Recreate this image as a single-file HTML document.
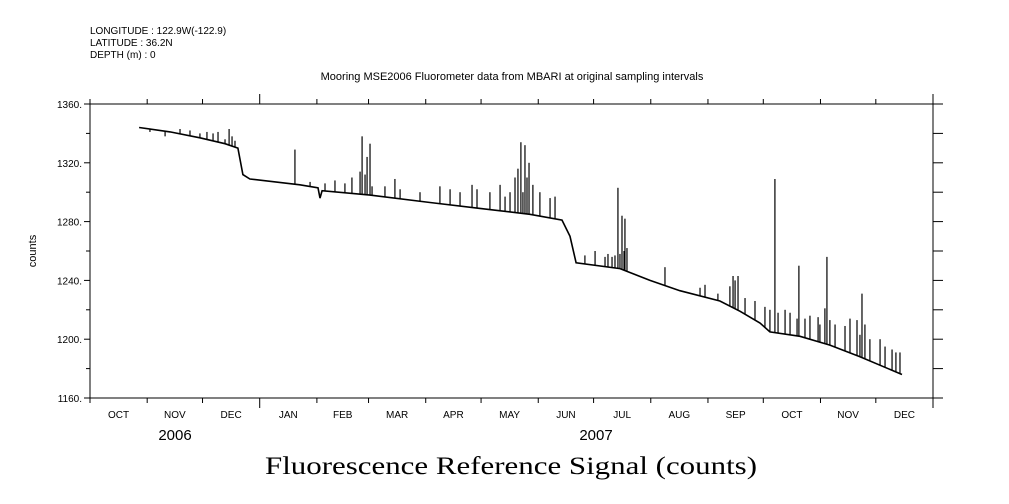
<!DOCTYPE html>
<html><head><meta charset="utf-8"><style>
body{margin:0;background:#fff;}
svg{display:block;font-family:"Liberation Sans",sans-serif;}
</style></head><body>
<svg id="chart" width="1009" height="504" viewBox="0 0 1009 504" xmlns="http://www.w3.org/2000/svg">
<rect width="1009" height="504" fill="#fff"/>
<g font-size="10" fill="#000">
<text x="90" y="34">LONGITUDE : 122.9W(-122.9)</text>
<text x="90" y="46">LATITUDE : 36.2N</text>
<text x="90" y="58">DEPTH (m) : 0</text>
<text x="512" y="80" text-anchor="middle" font-size="11">Mooring MSE2006 Fluorometer data from MBARI at original sampling intervals</text>
<text x="36" y="251" text-anchor="middle" transform="rotate(-90 36 251)" font-size="11">counts</text>
<text x="175" y="440" text-anchor="middle" font-size="15">2006</text>
<text x="596" y="440" text-anchor="middle" font-size="15">2007</text>
<text x="511" y="474" text-anchor="middle" font-size="25" font-family="Liberation Serif, serif" textLength="492" lengthAdjust="spacingAndGlyphs">Fluorescence Reference Signal (counts)</text>
</g>
<g id="axes" stroke="#000" stroke-width="1" fill="none"></g>
<g id="labels" font-size="10" fill="#000"></g>
<g id="series" stroke="#000" fill="none"></g>
</svg>
<script>
// data: days since 2006-10-01
const baseDays = [26.6,43.4,59.6,73.2,80.2,82.9,86.7,113.8,123.6,124.7,125.8,151.8,184.3,211.4,238.5,255.9,260.2,263.5,287.3,303.6,319.8,341.5,352.4,363.2,368.6,384.9,401.1,417.4,440.2];
const baseVals = [1344,1341,1337,1333,1330,1312,1309,1305,1303,1296,1301,1298,1293,1289,1285,1281,1270,1252,1248,1240,1233,1226,1219,1211,1205,1202,1196,1188,1176];
const spikeDays = [32.5,40.7,48.8,54.2,59.6,63.4,66.7,69.4,73.2,75.4,77.0,78.6,111.1,119.3,127.4,132.8,138.2,142.0,146.4,147.5,149.1,150.2,151.8,152.9,159.9,165.3,168.1,178.9,189.7,195.2,200.6,207.1,209.8,216.8,222.3,225.0,227.7,230.4,232.0,233.6,234.7,235.8,236.9,238.0,240.1,243.9,249.4,252.1,268.3,273.8,279.2,280.8,283.0,284.6,286.2,287.3,288.4,289.5,290.0,291.1,311.7,330.7,333.4,340.4,346.9,348.6,349.7,351.3,355.1,360.5,365.9,368.6,371.3,373.0,376.8,379.5,383.3,384.3,387.6,390.3,394.7,395.7,398.4,399.5,401.1,403.9,409.3,412.0,415.8,417.4,418.5,420.1,422.8,428.3,431.0,434.8,436.9,439.1];
const spikeVals = [1341,1338,1343,1342,1340,1341,1340,1341,1336,1343,1338,1335,1329,1307,1306,1308,1306,1310,1314,1338,1312,1324,1333,1304,1304,1309,1302,1300,1304,1302,1300,1305,1302,1300,1305,1297,1300,1310,1316,1334,1300,1332,1310,1320,1305,1300,1296,1297,1257,1260,1256,1258,1256,1257,1303,1258,1284,1260,1282,1262,1249,1235,1237,1231,1236,1243,1240,1243,1228,1226,1222,1220,1309,1218,1220,1218,1214,1250,1214,1216,1215,1210,1221,1256,1213,1210,1209,1214,1213,1203,1231,1210,1200,1200,1195,1193,1191,1191];
const yTicks = [1160,1200,1240,1280,1320,1360];
const monthLabels = ["OCT","NOV","DEC","JAN","FEB","MAR","APR","MAY","JUN","JUL","AUG","SEP","OCT","NOV","DEC"];
const monthStarts = [0,31,61,92,123,151,182,212,243,273,304,335,365,396,426,457];

const L=90,R=933,T=104,B=398,D0=0,D1=457,V0=1160,V1=1360;
const xs=d=>L+(d-D0)/(D1-D0)*(R-L);
const ys=v=>B-(v-V0)/(V1-V0)*(B-T);
const NS="http://www.w3.org/2000/svg";
function mk(tag,parent,attrs){const e=document.createElementNS(NS,tag);for(const k in attrs)e.setAttribute(k,attrs[k]);parent.appendChild(e);return e;}
const ax=document.getElementById('axes'), lb=document.getElementById('labels'), sr=document.getElementById('series');
const frame=mk('rect',ax,{x:L,y:T,width:R-L,height:B-T});


const rext=mk('line',ax,{x1:R,y1:T-9,x2:R,y2:B+10});


for(let v=V0;v<=V1;v+=20){
  const y=ys(v),major=yTicks.includes(v);
  const t=mk('line',ax,{x1:L-(major?6:4),y1:y,x2:L,y2:y});
  
  
  const t2=mk('line',ax,{x1:R,y1:y,x2:R+10,y2:y});
  
  
}
yTicks.forEach(v=>{
  const t=mk('text',lb,{x:L-8,y:ys(v)+4,'text-anchor':'end'});t.textContent=v+'.';
  
  
});
monthStarts.forEach((d,i)=>{
  const x=xs(d),big=(d===92||d===457);
  const a=mk('line',ax,{x1:x,y1:T-(big?10:5),x2:x,y2:T});
  
  
  const b=mk('line',ax,{x1:x,y1:B,x2:x,y2:B+(big?10:5)});
  
  
  if(i<monthLabels.length){
    const t=mk('text',lb,{x:(xs(d)+xs(monthStarts[i+1]))/2,y:418,'text-anchor':'middle'});
    t.textContent=monthLabels[i];
    
    
  }
});
function baseAt(d){
  for(let i=0;i<baseDays.length-1;i++){
    if(d>=baseDays[i]&&d<=baseDays[i+1]){const f=(d-baseDays[i])/(baseDays[i+1]-baseDays[i]);return baseVals[i]+f*(baseVals[i+1]-baseVals[i]);}
  }
  return baseVals[baseVals.length-1];
}
const line=mk('polyline',sr,{points:baseDays.map((d,i)=>xs(d).toFixed(1)+','+ys(baseVals[i]).toFixed(1)).join(' '),'stroke-width':1.6});


spikeDays.forEach((d,i)=>{
  const s=mk('line',sr,{x1:xs(d),y1:ys(baseAt(d)),x2:xs(d),y2:ys(spikeVals[i]),'stroke-width':1.2});
  
  
});
</script>
</body></html>
